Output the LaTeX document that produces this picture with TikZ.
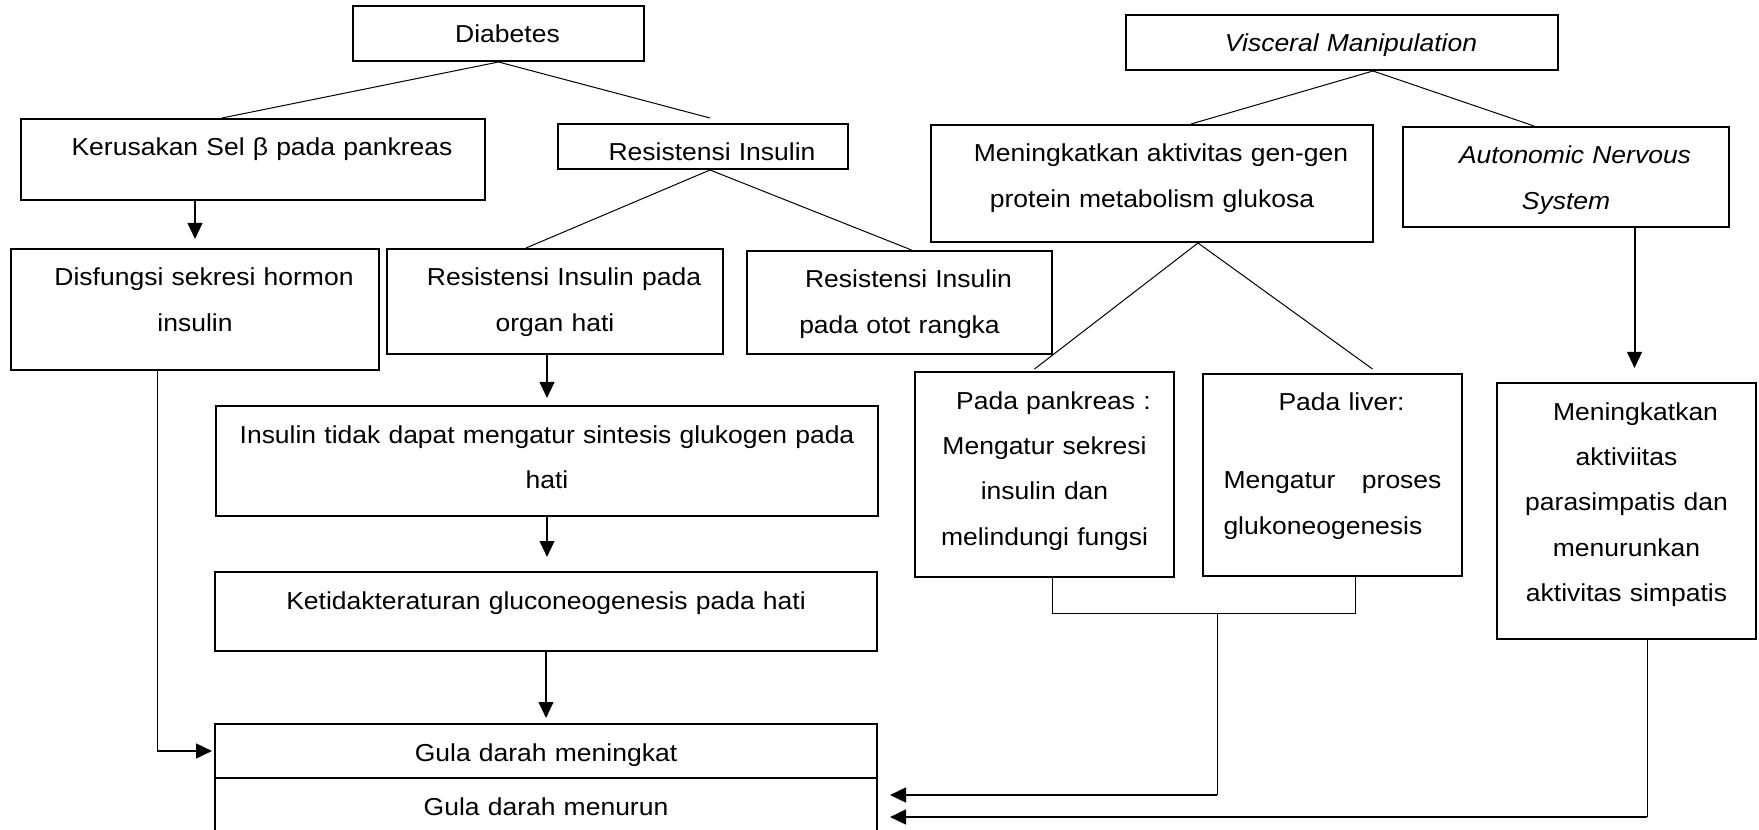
\documentclass[tikz,border=0pt]{standalone}
\usepackage{fontspec}
\setmainfont[FakeStretch=1.08]{Liberation Sans}
\usetikzlibrary{arrows.meta}
\usetikzlibrary{calc}
\tikzset{>={Stealth[inset=0pt,length=12pt,width=11pt]}}

\begin{document}
\begin{tikzpicture}[x=0.75pt,y=0.75pt,yscale=-1,xscale=1,
  box/.style={draw, line width=1.5pt, inner sep=0pt, anchor=north west, align=center,
    font=\fontsize{18.4}{34.1}\selectfont, text height=27.75pt},
  indent/.style={execute at begin node=\hspace*{13.5pt}},
  link/.style={line width=0.75pt},
  arr/.style={->, line width=1.5pt}]
\useasboundingbox (0,0) rectangle (1759,830);

%Shape: Rectangle (left branch)
\node[box, indent, text width=218.25pt, text depth=13.5pt] (diabetes) at (352,5) {Diabetes};
\node[box, indent, text width=348pt, text depth=33pt] (kerusakan) at (20,118) {Kerusakan Sel β pada pankreas};
\node[box, indent, text width=217.5pt, text depth=6pt] (resins) at (557,123) {Resistensi Insulin};
\node[box, indent, text width=276pt, text depth=63pt] (disfungsi) at (10,248) {Disfungsi sekresi hormon\\ insulin};
\node[box, indent, text width=252pt, text depth=51pt] (hati) at (386,248) {Resistensi Insulin pada\\ organ hati};
\node[box, indent, text width=228.75pt, text depth=49.5pt] (otot) at (746,250) {Resistensi Insulin\\ pada otot rangka};
\node[box, text width=496.5pt, text depth=54.75pt] (sintesis) at (215,405) {Insulin tidak dapat mengatur sintesis glukogen pada\\ hati};
\node[box, text width=496.5pt, text depth=31.5pt] (ketidak) at (214,571) {Ketidakteraturan gluconeogenesis pada hati};
\node[box, text width=496.5pt, text depth=12.75pt] (meningkat) at (214,723) {Gula darah meningkat};
\node[box, text width=496.5pt, text depth=17.25pt] (menurun) at (214,777) {Gula darah menurun};

%Shape: Rectangle (right branch)
\node[box, indent, text width=324pt, text depth=13.5pt] (visceral) at (1125,14) {\textit{Visceral Manipulation}};
\node[box, indent, text width=331.5pt, text depth=60pt] (gen) at (930,124) {Meningkatkan aktivitas gen-gen\\ protein metabolism glukosa};
\node[box, indent, text width=244.5pt, text depth=47.25pt] (ans) at (1402,126) {\textit{Autonomic Nervous}\\ \textit{System}};
\node[box, indent, text width=194.25pt, text depth=126pt] (pankreas) at (914,371) {Pada pankreas :\\ Mengatur sekresi\\ insulin dan\\ melindungi fungsi};
\node[box, indent, text width=194.25pt, text depth=123.75pt] (liver) at (1202,373) {Pada liver:\\[24.4pt] \makebox[163.5pt]{Mengatur\hfill proses}\\ \makebox[163.5pt][l]{glukoneogenesis}};
\node[box, indent, text width=194.25pt, text depth=164.25pt] (aktiviitas) at (1496,382) {Meningkatkan\\ aktiviitas\\ parasimpatis dan\\ menurunkan\\ aktivitas simpatis};

%Straight Lines
\draw[link] (diabetes.south) -- ($(kerusakan.north)+(-31,0)$);
\draw[link] (diabetes.south) -- ($(resins.north)+(7,-5)$);
\draw[link] ($(resins.south)+(7,0)$) -- ($(hati.north)+(-29,0)$);
\draw[link] ($(resins.south)+(7,0)$) -- ($(otot.north)+(12,0)$);
\draw[link] ($(visceral.south)+(31,0)$) -- ($(gen.north)+(39,0)$);
\draw[link] ($(visceral.south)+(31,0)$) -- ($(ans.north)+(-32,0)$);
\draw[link] ($(gen.south)+(46,0)$) -- ($(pankreas.north)+(-10,-2)$);
\draw[link] ($(gen.south)+(46,0)$) -- ($(liver.north)+(40,-4)$);

%Arrows
\draw[arr] (kerusakan.south -| disfungsi.north) -- ($(disfungsi.north)+(0,-9)$);
\draw[arr] (hati.south -| sintesis.north) -- ($(sintesis.north)+(0,-7)$);
\draw[arr] (sintesis.south) -- ($(sintesis.south |- ketidak.north)+(0,-14)$);
\draw[arr] (ketidak.south) -- ($(ketidak.south |- meningkat.north)+(0,-5)$);
\draw[arr] ($(ans.south -| aktiviitas.north)+(8,0)$) -- ($(aktiviitas.north)+(8,-14)$);

%Elbow to Gula darah meningkat
\coordinate (dfs) at ($(disfungsi.south)+(-38,0)$);
\draw[link] (dfs) -- (dfs |- meningkat.west) coordinate (dfe);
\draw[arr, line width=2pt] (dfe) -- ($(meningkat.west)+(-2,0)$);

%Bracket to Gula darah menurun
\coordinate (pk) at ($(pankreas.south)+(7.5,0)$);
\coordinate (lv) at ($(liver.south)+(22.5,0)$);
\draw[link] (pk) -- ++(0,35) -| (lv);
\coordinate (mid) at ($(pk)+(165,35)$);
\coordinate (in1) at ($(menurun.north east)+(12,18)$);
\draw[link] (mid) -- (mid |- in1) coordinate (c1);
\draw[arr, line width=2pt] (c1) -- (in1);
\coordinate (ak) at ($(aktiviitas.south)+(20.5,0)$);
\coordinate (in2) at ($(menurun.north east)+(12,40)$);
\draw[link] (ak) -- (ak |- in2) coordinate (c2);
\draw[arr, line width=2pt] (c2) -- (in2);
\end{tikzpicture}
\end{document}
